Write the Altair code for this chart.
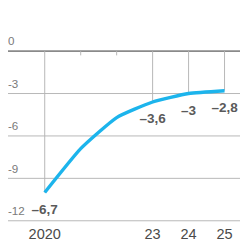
import altair as alt
import pandas as pd

years = [2020, 2021, 2022, 2023, 2024, 2025]
values = [-10.0, -6.9, -4.7, -3.6, -3.0, -2.8]
label_years = [2020, 2023, 2024, 2025]
label_texts = ["–6,7", "–3,6", "–3", "–2,8"]
tick_years = [2021, 2022]
grid_values = [0, -3, -6, -9, -12]
grid_labels = ["0", "-3", "-6", "-9", "-12"]
xlabel_years = [2020, 2023, 2024, 2025]
xlabel_texts = ["2020", "23", "24", "25"]

FONT = "Liberation Sans"
W, H = 240, 238
xs = alt.Scale(domain=[2018.9785, 2025.4301], nice=False, zero=False)
ys = alt.Scale(domain=[-13.504, 2.769], nice=False, zero=False)

line_df = pd.DataFrame({"year": years, "value": values})
vmap = dict(zip(years, values))
lab_df = pd.DataFrame({"year": label_years, "label": label_texts,
                       "value": [vmap[y] for y in label_years],
                       "zero": [0] * len(label_years)})
tick_df = pd.DataFrame({"year": tick_years, "zero": [0] * len(tick_years),
                        "end": [-0.3] * len(tick_years)})
grid_df = pd.DataFrame({"v": grid_values, "t": grid_labels})
xl_df = pd.DataFrame({"year": xlabel_years, "t": xlabel_texts,
                      "v": [-12] * len(xlabel_years)})

X = lambda f: alt.X(f, type="quantitative", scale=xs, axis=None)
Y = lambda f: alt.Y(f, type="quantitative", scale=ys, axis=None)

grid = alt.Chart(grid_df).transform_filter("datum.v != 0").mark_rule(
    color="#b5b5b5", strokeWidth=1).encode(y=Y("v"), x=alt.value(0), x2=alt.value(W))
zero = alt.Chart(grid_df).transform_filter("datum.v == 0").mark_rule(
    color="#8a8a8a", strokeWidth=1.6).encode(y=Y("v"), x=alt.value(0), x2=alt.value(W))
ylab = alt.Chart(grid_df).mark_text(
    align="left", baseline="bottom", dy=-3, font=FONT, fontSize=12, color="#7a7a7a"
).encode(y=Y("v"), x=alt.value(0), text="t:N")

drops = alt.Chart(lab_df).mark_rule(color="#b5b5b5", strokeWidth=1).encode(
    x=X("year"), y=Y("zero"), y2="value")
ticks = alt.Chart(tick_df).mark_rule(color="#b5b5b5", strokeWidth=1).encode(
    x=X("year"), y=Y("zero"), y2="end")

line = alt.Chart(line_df).mark_line(
    color="#1cb4ec", strokeWidth=3.5, interpolate="cardinal", tension=0.5,
    strokeCap="butt", strokeJoin="round"
).encode(x=X("year"), y=Y("value"))

dlab = alt.Chart(lab_df).mark_text(
    align="center", baseline="middle", dy=18, font=FONT, fontSize=14,
    fontWeight="bold", color="#5a5a5a"
).encode(x=X("year"), y=Y("value"), text="label:N")

xlab = alt.Chart(xl_df).mark_text(
    align="center", baseline="middle", dy=14, font=FONT, fontSize=15, color="#4a4a4a"
).encode(x=X("year"), y=Y("v"), text="t:N")

chart = alt.layer(grid, zero, drops, ticks, line, ylab, dlab, xlab).properties(
    width=W, height=H, padding=0, autosize=alt.AutoSizeParams(type="none")
).configure_view(stroke=None)

chart.save("out.html", embed_options={"renderer": "svg", "actions": False})
